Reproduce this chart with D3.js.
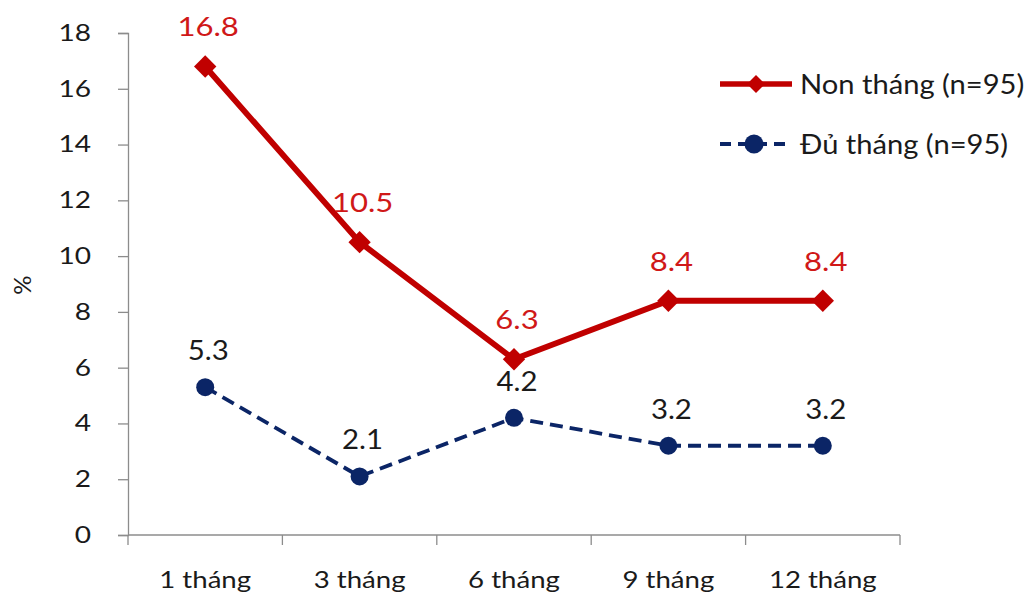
<!DOCTYPE html>
<html>
<head>
<meta charset="utf-8">
<script src="https://cdn.jsdelivr.net/npm/d3@7"></script>
<style>
  html, body { margin: 0; padding: 0; background: #fff; }
  svg { display: block; font-family: Lato, "Open Sans", sans-serif; }
</style>
</head>
<body>
<svg id="chart" width="1029" height="595"></svg>
<script>
// Categories (follow-up time points)
const categories = ["1 tháng", "3 tháng", "6 tháng", "9 tháng", "12 tháng"];
// Series values (%)
const pretermValues = [16.8, 10.5, 6.3, 8.4, 8.4];
const termValues = [5.3, 2.1, 4.2, 3.2, 3.2];
const seriesNames = ["Non tháng (n=95)", "Đủ tháng (n=95)"];
// Y-axis tick labels
const yTicks = [0, 2, 4, 6, 8, 10, 12, 14, 16, 18];

const svg = d3.select("#chart");
const margin = { left: 128, right: 129, top: 33, bottom: 60 };
const W = 1029, H = 595;

const x = d3.scaleBand().domain(categories).range([margin.left, W - margin.right]);
const y = d3.scaleLinear().domain([0, 18]).range([H - margin.bottom, margin.top]);

const axisColor = "#8c8c8c";
const textColor = "#1a1a1a";
const red = "#C00000";
const labelRed = "#D01818";
const navy = "#0B2566";

// Widen text glyphs horizontally by factor k
function stretch(sel, k) {
  sel.each(function () {
    const w = this.getComputedTextLength();
    d3.select(this).attr("textLength", w * k).attr("lengthAdjust", "spacingAndGlyphs");
  });
}

// Y axis
const yAxis = svg.append("g")
  .attr("transform", `translate(${margin.left},0)`)
  .call(d3.axisLeft(y).tickValues(yTicks).tickSize(10).tickPadding(27).tickFormat(d3.format("d")));
yAxis.select(".domain").attr("stroke", axisColor).attr("stroke-width", 1.3);
yAxis.selectAll(".tick line").attr("stroke", axisColor).attr("stroke-width", 1.3);
yAxis.selectAll(".tick text")
  .attr("fill", textColor).attr("font-size", 23).attr("font-family", "Lato, sans-serif")
  .call(stretch, 1.22);

// X axis: tick marks at band boundaries, labels at band centres
const xAxisG = svg.append("g").attr("transform", `translate(0,${y(0)})`);
xAxisG.append("line")
  .attr("x1", margin.left).attr("x2", W - margin.right)
  .attr("stroke", axisColor).attr("stroke-width", 1.3);
const boundaries = categories.map(c => x(c)).concat([x(categories[categories.length - 1]) + x.bandwidth()]);
xAxisG.selectAll("line.tk").data(boundaries).join("line")
  .attr("class", "tk")
  .attr("x1", d => d).attr("x2", d => d)
  .attr("y1", 0).attr("y2", 10)
  .attr("stroke", axisColor).attr("stroke-width", 1.3);
xAxisG.selectAll("text").data(categories).join("text")
  .attr("x", d => x(d) + x.bandwidth() / 2)
  .attr("y", 53)
  .attr("text-anchor", "middle")
  .attr("fill", textColor)
  .attr("font-size", 23)
  .text(d => d)
  .call(stretch, 1.2);

// Y-axis title
svg.append("text")
  .attr("transform", `translate(31,285) rotate(-90)`)
  .attr("text-anchor", "middle")
  .attr("fill", textColor)
  .attr("font-size", 24)
  .text("%");

const cx = d => x(d) + x.bandwidth() / 2;
const line = d3.line().x(d => cx(d.c)).y(d => y(d.v));

const preterm = categories.map((c, i) => ({ c, v: pretermValues[i] }));
const term = categories.map((c, i) => ({ c, v: termValues[i] }));

// Term series: dashed navy with circles
svg.append("path").datum(term)
  .attr("d", line).attr("fill", "none")
  .attr("stroke", navy).attr("stroke-width", 3.8)
  .attr("stroke-dasharray", "13,7");
svg.selectAll("circle.term").data(term).join("circle")
  .attr("class", "term")
  .attr("cx", d => cx(d.c)).attr("cy", d => y(d.v)).attr("r", 9)
  .attr("fill", navy);

// Preterm series: solid red with diamonds
svg.append("path").datum(preterm)
  .attr("d", line).attr("fill", "none")
  .attr("stroke", red).attr("stroke-width", 5.8)
  .attr("stroke-linejoin", "miter");
svg.selectAll("path.pre").data(preterm).join("path")
  .attr("class", "pre")
  .attr("transform", d => `translate(${cx(d.c)},${y(d.v)}) rotate(45)`)
  .attr("d", d3.symbol().type(d3.symbolSquare).size(250))
  .attr("fill", red);

// Value labels
svg.selectAll("text.prelab").data(preterm).join("text")
  .attr("class", "prelab")
  .attr("x", d => cx(d.c) + 3).attr("y", d => y(d.v) - 30)
  .attr("text-anchor", "middle")
  .attr("fill", labelRed)
  .attr("font-size", 27.5)
  .text(d => d.v.toFixed(1))
  .call(stretch, 1.13);
svg.selectAll("text.termlab").data(term).join("text")
  .attr("class", "termlab")
  .attr("x", d => cx(d.c) + 3).attr("y", d => y(d.v) - 27)
  .attr("text-anchor", "middle")
  .attr("fill", textColor)
  .attr("font-size", 26)
  .text(d => d.v.toFixed(1))
  .call(stretch, 1.13);

// Legend
const legend = svg.append("g");
const legY = [84, 144];
legend.append("line").attr("x1", 720).attr("x2", 792).attr("y1", legY[0]).attr("y2", legY[0])
  .attr("stroke", red).attr("stroke-width", 5.5);
legend.append("path").attr("transform", `translate(756,${legY[0]}) rotate(45)`)
  .attr("d", d3.symbol().type(d3.symbolSquare).size(160)).attr("fill", red);
legend.append("line").attr("x1", 720).attr("x2", 792).attr("y1", legY[1]).attr("y2", legY[1])
  .attr("stroke", navy).attr("stroke-width", 3.8).attr("stroke-dasharray", "11,7");
legend.append("circle").attr("cx", 754).attr("cy", legY[1]).attr("r", 9.5).attr("fill", navy);
legend.selectAll("text").data(seriesNames).join("text")
  .attr("x", 800).attr("y", (d, i) => legY[i] + 10)
  .attr("fill", textColor)
  .attr("font-size", 26)
  .text(d => d)
  .call(stretch, 1.12);
</script>
</body>
</html>
